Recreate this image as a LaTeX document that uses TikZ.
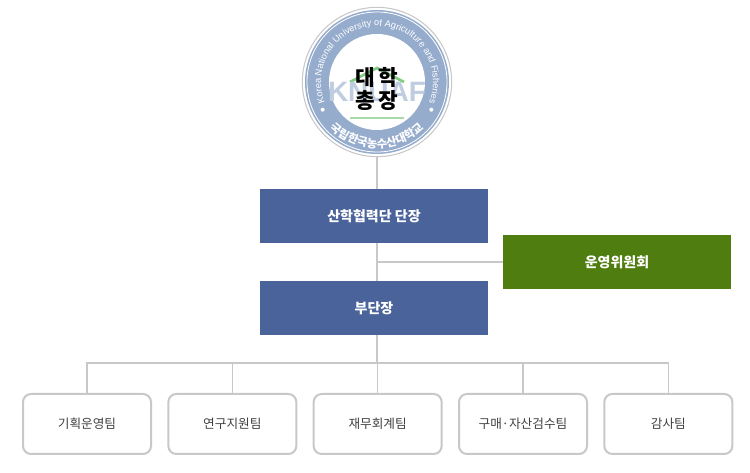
\documentclass[tikz,border=0pt]{standalone}
\usepackage{fontspec}
\setmainfont{Noto Sans CJK KR}
\newfontfamily\sealfont{Liberation Sans}
\usetikzlibrary{positioning,decorations.text}
\definecolor{headblue}{RGB}{74,99,154}
\definecolor{boardgreen}{RGB}{80,125,15}
\definecolor{lineGray}{RGB}{200,200,200}
\definecolor{sealblue}{RGB}{150,172,205}
\tikzset{
  headbox/.style={fill=headblue, text=white, minimum width=171pt, minimum height=40.5pt, inner sep=0pt, font=\fontsize{10.5}{12}\selectfont\bfseries},
  boardbox/.style={headbox, fill=boardgreen},
  teambox/.style={draw=lineGray, line width=1.5pt, rounded corners=6pt, fill=white, minimum width=96pt, minimum height=45pt, inner sep=0pt, font=\fontsize{9.5}{11}\selectfont, text=black!75},
  link/.style={draw=lineGray, line width=1pt}
}
\begin{document}
\begin{tikzpicture}[x=0.75pt,y=0.75pt,yscale=-1,xscale=1]
\useasboundingbox (0,0) rectangle (750,473);

%Seal
\node (seal) [circle, draw=lineGray, line width=0.8pt, minimum size=112pt, inner sep=0pt] at (377,82) {};
\fill [sealblue] (377,82) circle (72);
\fill [white] (377,82) circle (48);
\draw [white, line width=0.6pt] (377,82) circle (70);
\draw [green!60!black!50, line width=2pt] (350,82) -- (377,68) -- (404,82);
\draw [green!60!black!35, line width=1.5pt] (350,118) -- (404,118);
\node (knuaf) at (377,92) [text=sealblue!60, font=\sealfont\fontsize{21}{21}\selectfont\bfseries] {KNUAF};
\node (chief) at (377,89) [align=center, font=\fontsize{16}{17}\selectfont\bfseries] {대\,학\\총\,장};
\begin{scope}[yscale=-1]
\path [decorate, decoration={text along path, text align=center,
  text={|\sealfont\fontsize{6.9}{8}\selectfont\color{white}|Korea National University of Agriculture and Fisheries}}]
  (377,-82) ++(200:56) arc[start angle=200, end angle=-20, radius=56];
\path [decorate, decoration={text along path, text align=center,
  text={|\fontsize{8.5}{10}\selectfont\bfseries\color{white}|국립한국농수산대학교}}]
  (377,-82) ++(215:66) arc[start angle=215, end angle=325, radius=66];
\fill [white] (377,-82) ++(207:61) circle (2);
\fill [white] (377,-82) ++(333:61) circle (2);
\end{scope}

%Head boxes
\node (head) [headbox] at (374,216) {산학협력단 단장};
\node (deputy) [headbox] at (374,308) {부단장};
\node (board) [boardbox] at (617,262) {운영위원회};
\coordinate (mid) at (377,262);
\coordinate (split) at (377,363);

%Teams
\node (t1) [teambox] at (87,424) {기획운영팀};
\node (t2) [teambox, right=11.5pt of t1] {연구지원팀};
\node (t3) [teambox, right=11.5pt of t2] {재무회계팀};
\node (t4) [teambox, right=11.5pt of t3] {구매·자산검수팀};
\node (t5) [teambox, right=11.5pt of t4] {감사팀};

%Links
\path [link] (377,157) -- (377,189);
\path [link] (377,243) -- (377,281);
\path [link] (mid) -- (mid -| board.west);
\path [link] (377,335) -- (split);
\path [link] (t1.north) |- (split) -| (t5.north);
\foreach \t in {t2,t3,t4}
  \path [link] (\t.north) -- (\t.north |- split);
\end{tikzpicture}
\end{document}
